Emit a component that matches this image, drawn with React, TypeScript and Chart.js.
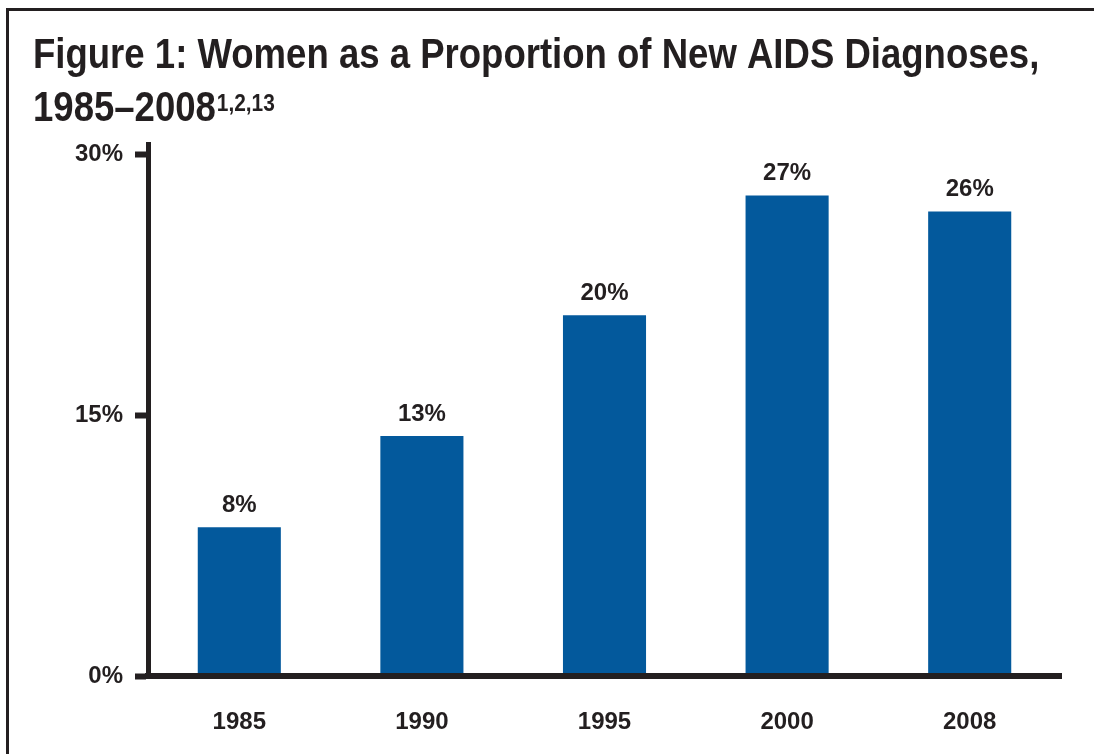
import React, { useEffect, useRef } from "react";
import { Chart, registerables } from "chart.js";

Chart.register(...registerables);

const categories = ["1985", "1990", "1995", "2000", "2008"];
const womenShare = [8.56, 13.8, 20.75, 27.64, 26.72];
const valueLabels = ["8%", "13%", "20%", "27%", "26%"];
const yTicks = [0, 15, 30];
const titleLine1 = "Figure 1: Women as a Proportion of New AIDS Diagnoses,";
const titleLine2 = "1985\u20132008";
const titleSup = "1,2,13";

const INK = "#231f20";
const BAR = "#03599c";
const FONT = "'Liberation Sans', Arial, Helvetica, sans-serif";

const framePlugin = {
  id: "frameAndTitle",
  beforeDraw(chart: any) {
    const ctx = chart.ctx;
    ctx.save();
    ctx.fillStyle = "#ffffff";
    ctx.fillRect(0, 0, chart.width, chart.height);
    ctx.fillStyle = INK;
    ctx.fillRect(6, 8, chart.width - 6, 3);
    ctx.fillRect(6, 8, 3, chart.height - 8);
    ctx.restore();
  },
  afterDraw(chart: any) {
    const ctx = chart.ctx;
    const sx = 0.87;
    ctx.save();
    ctx.fillStyle = INK;
    ctx.textBaseline = "alphabetic";
    ctx.textAlign = "left";
    ctx.translate(33, 0);
    ctx.scale(sx, 1);
    ctx.font = `bold 42px ${FONT}`;
    ctx.fillText(titleLine1, 0, 68);
    ctx.fillText(titleLine2, 0, 121);
    const w2 = ctx.measureText(titleLine2).width;
    ctx.font = `bold 24px ${FONT}`;
    ctx.fillText(titleSup, w2 + 1, 111);
    ctx.restore();
  },
};

const valueLabelPlugin = {
  id: "valueLabels",
  afterDatasetsDraw(chart: any) {
    const ctx = chart.ctx;
    const meta = chart.getDatasetMeta(0);
    ctx.save();
    ctx.fillStyle = INK;
    ctx.font = `bold 24px ${FONT}`;
    ctx.textAlign = "center";
    ctx.textBaseline = "alphabetic";
    meta.data.forEach((bar: any, i: number) => {
      ctx.fillText(valueLabels[i], bar.x, bar.y - 15);
    });
    ctx.restore();
  },
};

export default function App() {
  const canvasRef = useRef<HTMLCanvasElement | null>(null);

  useEffect(() => {
    if (!canvasRef.current) return;
    const chart = new Chart(canvasRef.current, {
      type: "bar",
      data: {
        labels: categories,
        datasets: [
          {
            data: womenShare,
            backgroundColor: BAR,
            borderWidth: 0,
            categoryPercentage: 1,
            barPercentage: 0.455,
          },
        ],
      },
      options: {
        responsive: false,
        animation: false,
        events: [],
        layout: { padding: { left: 0, right: 33, top: 144, bottom: 0 } },
        plugins: {
          legend: { display: false },
          title: { display: false },
          tooltip: { enabled: false },
        },
        scales: {
          x: {
            afterFit: (s: any) => {
              s.height = 78;
            },
            grid: { display: true, drawOnChartArea: false, drawTicks: false },
            border: { display: true, width: 6, color: INK, z: 1 },
            ticks: {
              color: INK,
              padding: 32,
              font: { family: FONT, size: 24, weight: "bold" },
            },
          },
          y: {
            min: 0,
            max: 30.6,
            afterFit: (s: any) => {
              s.width = 148;
            },
            afterBuildTicks: (s: any) => {
              s.ticks = yTicks.map((v) => ({ value: v }));
            },
            grid: {
              drawOnChartArea: false,
              drawTicks: true,
              tickLength: 13,
              tickWidth: 6,
              tickColor: INK,
              color: INK,
            },
            border: { display: true, width: 5, color: INK, z: 1 },
            ticks: {
              color: INK,
              padding: 12,
              font: { family: FONT, size: 24, weight: "bold" },
              callback: (v: any) => `${v}%`,
            },
          },
        },
      },
      plugins: [framePlugin, valueLabelPlugin],
    });
    return () => chart.destroy();
  }, []);

  return (
    <canvas
      ref={canvasRef}
      width={1094}
      height={754}
      style={{ position: "absolute", left: 0, top: 0, display: "block" }}
    />
  );
}
